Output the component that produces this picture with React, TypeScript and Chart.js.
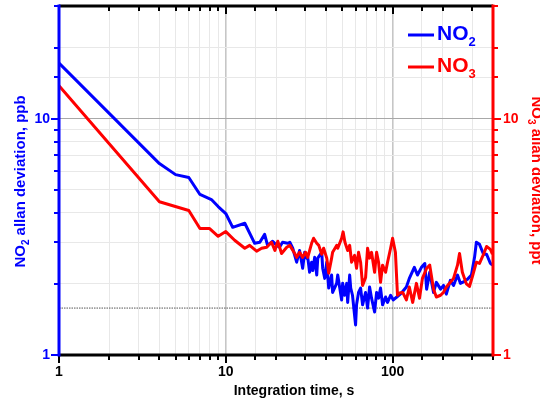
import React, { useEffect, useRef } from 'react';
import { Chart, registerables } from 'chart.js';

Chart.register(...registerables);

const FONT = '"Liberation Sans", Arial, Helvetica, sans-serif';

// Integration time (s) and Allan deviation
const NO2_TAU = [1, 4, 5, 6, 7, 8.2, 9, 10, 11, 13,
  14.9, 16, 17.1, 17.8, 19.1, 20.2, 21, 21.9, 23.5, 24.2,
  25.2, 26.6, 27.7, 28.9, 29.7, 30.5, 31, 31.8, 32.7, 33.2,
  34.1, 35.1, 35.6, 37.6, 38.1, 39.2, 40.3, 41.4, 43.1, 43.7,
  46.2, 46.9, 49.5, 50.2, 51.6, 53.1, 53.8, 55.3, 56.1, 57.5,
  60, 60.8, 62.5, 64.3, 66.1, 68.9, 70.8, 72.8, 74.8, 78,
  80.2, 82.4, 84.7, 87.1, 90.8, 93.3, 97.3, 101, 106, 113,
  121, 126, 135, 141, 149, 156, 160, 167, 176, 183,
  194, 202, 210, 222, 232, 245, 255, 270, 281, 297,
  310, 318, 332, 351, 366, 386, 397];
const NO2_DEV = [17.2, 6.46, 5.8, 5.64, 4.78, 4.55, 4.25, 3.97, 3.47, 3.61,
  2.97, 3.0, 3.24, 2.91, 3.03, 2.91, 2.86, 3.0, 2.97, 3.0,
  2.83, 2.47, 2.77, 2.33, 2.72, 2.57, 2.59, 2.24, 2.47, 2.28,
  2.59, 2.18, 2.57, 2.72, 2.33, 2.11, 2.47, 1.92, 2.18, 1.84,
  2.01, 2.18, 1.71, 2.01, 1.79, 2.01, 1.67, 2.18, 1.92, 1.79,
  1.34, 1.63, 1.84, 1.92, 1.63, 1.84, 1.58, 1.94, 1.74, 1.52,
  1.84, 1.74, 1.92, 1.63, 1.76, 1.67, 1.79, 1.71, 1.76, 1.83,
  1.94, 2.11, 2.35, 2.18, 2.35, 2.44, 1.9, 2.24, 1.84, 2.03,
  1.9, 1.97, 1.81, 2.07, 1.97, 2.18, 2.01, 2.05, 2.09, 2.18,
  2.59, 3.0, 2.94, 2.67, 2.67, 2.44, 2.4];

const NO3_TAU = [1, 4, 6, 7, 8, 9, 10, 11.3, 13, 13.9,
  15.3, 16.4, 17.6, 18.8, 19.7, 20.5, 21.6, 23.2, 24.2, 25.9,
  26.6, 27.7, 28.9, 30.1, 31, 32.7, 33.6, 35.1, 36.1, 37.6,
  38.6, 40.3, 41.4, 43.1, 43.7, 46.2, 46.9, 49.5, 50.5, 51.8,
  53.8, 55.3, 56.8, 59.2, 60.8, 62.5, 64.3, 66.1, 68.9, 70.8,
  72.8, 74.8, 78, 80.2, 82.4, 84.7, 87.1, 90.8, 93.3, 97.3,
  100, 104, 107, 110, 115, 121, 126, 132, 139, 145,
  151, 160, 167, 176, 183, 194, 202, 210, 222, 232,
  245, 252, 262, 277, 289, 301, 318, 332, 351, 366,
  386, 397];
const NO3_DEV = [13.8, 4.45, 4.09, 3.43, 3.43, 3.18, 3.33, 3.06, 2.83, 2.91,
  2.75, 2.83, 2.86, 3.0, 2.77, 3.03, 2.69, 2.86, 2.91, 2.69,
  2.59, 2.72, 2.59, 2.72, 2.59, 2.97, 3.12, 2.97, 2.91, 2.67,
  2.83, 2.57, 2.22, 2.57, 2.72, 2.91, 2.83, 3.12, 3.32, 3.0,
  2.77, 2.91, 2.47, 2.64, 2.33, 2.72, 2.47, 1.97, 2.13, 2.83,
  2.57, 2.72, 2.24, 2.72, 2.47, 2.03, 2.4, 2.24, 2.47, 2.83,
  3.12, 2.72, 1.79, 1.83, 1.84, 1.71, 1.94, 1.67, 2.01, 1.74,
  2.11, 2.33, 2.4, 1.9, 1.76, 1.79, 1.84, 1.94, 2.03, 2.11,
  2.4, 2.69, 2.24, 2.0, 1.95, 2.15, 2.47, 2.44, 2.67, 2.88,
  2.8, 2.67];

// dotted reference level
const LIMIT_TAU = [1, 400];
const LIMIT_DEV = [1.58, 1.58];

const X_RANGE = [1, 400];
const Y_RANGE = [1, 30];

const X_TITLE = 'Integration time, s';
type Seg = [string, boolean];
const Y_TITLE: Seg[] = [['NO', false], ['2', true], [' allan deviation, ppb', false]];
const Y2_TITLE: Seg[] = [['NO', false], ['3', true], [' allan deviation, ppt', false]];
const LEGEND: { segs: Seg[]; color: string }[] = [
  { segs: [['NO', false], ['2', true]], color: '#0000ff' },
  { segs: [['NO', false], ['3', true]], color: '#ff0000' },
];

const BLUE = '#0000ff';
const RED = '#ff0000';

const isMajor = (v: number) => {
  const l = Math.log10(v);
  return Math.abs(l - Math.round(l)) < 1e-9;
};

function drawRich(ctx: CanvasRenderingContext2D, segs: Seg[], x: number, y: number,
  size: number, subSize: number, drop: number, center: boolean) {
  const main = `bold ${size}px ${FONT}`;
  const sub = `bold ${subSize}px ${FONT}`;
  let total = 0;
  for (const [t, s] of segs) { ctx.font = s ? sub : main; total += ctx.measureText(t).width; }
  let cx = center ? x - total / 2 : x;
  ctx.textAlign = 'left';
  ctx.textBaseline = 'alphabetic';
  for (const [t, s] of segs) {
    ctx.font = s ? sub : main;
    ctx.fillText(t, cx, s ? y + drop : y);
    cx += ctx.measureText(t).width;
  }
}

const framePlugin = {
  id: 'frame',
  afterDraw(chart: any) {
    const { ctx, chartArea: a, scales } = chart;
    const xs = scales.x, ys = scales.y, y2s = scales.y2;
    ctx.save();
    // ticks
    ctx.lineWidth = 2;
    ctx.strokeStyle = '#000';
    for (const t of xs.ticks) {
      const px = Math.round(xs.getPixelForValue(t.value));
      const len = isMajor(t.value) ? 8 : 5;
      ctx.beginPath();
      ctx.moveTo(px, a.bottom); ctx.lineTo(px, a.bottom + len);
      ctx.moveTo(px, a.top); ctx.lineTo(px, a.top + len);
      ctx.stroke();
    }
    ctx.strokeStyle = BLUE;
    for (const t of ys.ticks) {
      const py = Math.round(ys.getPixelForValue(t.value));
      const len = isMajor(t.value) ? 8 : 5;
      ctx.beginPath(); ctx.moveTo(a.left, py); ctx.lineTo(a.left - len, py); ctx.stroke();
    }
    ctx.strokeStyle = RED;
    for (const t of y2s.ticks) {
      const py = Math.round(y2s.getPixelForValue(t.value));
      const len = isMajor(t.value) ? 8 : 5;
      ctx.beginPath(); ctx.moveTo(a.right, py); ctx.lineTo(a.right + len, py); ctx.stroke();
    }
    // frame
    ctx.lineWidth = 3;
    ctx.strokeStyle = '#000';
    ctx.beginPath();
    ctx.moveTo(a.left, a.top); ctx.lineTo(a.right, a.top);
    ctx.moveTo(a.left, a.bottom); ctx.lineTo(a.right, a.bottom);
    ctx.stroke();
    ctx.strokeStyle = BLUE;
    ctx.beginPath(); ctx.moveTo(a.left, a.top - 1.5); ctx.lineTo(a.left, a.bottom + 1.5); ctx.stroke();
    ctx.strokeStyle = RED;
    ctx.beginPath(); ctx.moveTo(a.right, a.top - 1.5); ctx.lineTo(a.right, a.bottom + 1.5); ctx.stroke();

    // x title
    ctx.fillStyle = '#000';
    ctx.font = `bold 14px ${FONT}`;
    ctx.textAlign = 'center';
    ctx.textBaseline = 'alphabetic';
    ctx.fillText(X_TITLE, 294, 395);

    // left title
    ctx.save();
    ctx.fillStyle = BLUE;
    ctx.translate(25, (a.top + a.bottom) / 2 + 1);
    ctx.rotate(-Math.PI / 2);
    drawRich(ctx, Y_TITLE, 0, 0, 15, 10, 4, true);
    ctx.restore();

    // right title
    ctx.save();
    ctx.fillStyle = RED;
    ctx.translate(532, (a.top + a.bottom) / 2);
    ctx.rotate(Math.PI / 2);
    drawRich(ctx, Y2_TITLE, 0, 0, 15, 10, 4, true);
    ctx.restore();

    // legend
    LEGEND.forEach((item, i) => {
      const ly = 35 + i * 32;
      ctx.strokeStyle = item.color;
      ctx.lineWidth = 3;
      ctx.beginPath(); ctx.moveTo(408, ly); ctx.lineTo(434, ly); ctx.stroke();
      ctx.fillStyle = item.color;
      drawRich(ctx, item.segs, 437, ly + 5, 21, 13, 6, false);
    });
    ctx.restore();
  },
};

export default function App() {
  const ref = useRef<HTMLCanvasElement>(null);
  useEffect(() => {
    const canvas = ref.current;
    if (!canvas) return;
    const toPts = (xs: number[], ys: number[]) => xs.map((x, i) => ({ x, y: ys[i] }));
    const tickFont = { family: FONT, size: 14, weight: 'bold' as const };
    const chart = new Chart(canvas, {
      type: 'line',
      data: {
        datasets: [
          {
            label: 'NO3', data: toPts(NO3_TAU, NO3_DEV), yAxisID: 'y2', borderColor: RED,
            borderWidth: 3, pointRadius: 0, tension: 0, borderJoinStyle: 'round', order: 1,
          },
          {
            label: 'NO2', data: toPts(NO2_TAU, NO2_DEV), yAxisID: 'y', borderColor: BLUE,
            borderWidth: 3, pointRadius: 0, tension: 0, borderJoinStyle: 'round', order: 2,
          },
          {
            label: 'limit', data: toPts(LIMIT_TAU, LIMIT_DEV), yAxisID: 'y', borderColor: '#555',
            borderWidth: 1, borderDash: [1.5, 1], pointRadius: 0, order: 3,
          },
        ],
      },
      options: {
        responsive: false,
        devicePixelRatio: 1,
        animation: false,
        layout: { padding: { top: 6, left: 0, right: 0, bottom: 0 } },
        plugins: { legend: { display: false }, tooltip: { enabled: false } },
        scales: {
          x: {
            type: 'logarithmic', min: X_RANGE[0], max: X_RANGE[1], position: 'bottom',
            grid: {
              drawTicks: false,
              color: (c: any) => (c.tick && isMajor(c.tick.value) ? '#c6c6c6' : '#e8e8e8'),
              lineWidth: (c: any) => (c.tick && isMajor(c.tick.value) ? 1.6 : 1),
            },
            border: { display: false },
            ticks: {
              autoSkip: false, maxRotation: 0, padding: 9, color: '#000', font: tickFont,
              callback: (v: any) => (isMajor(Number(v)) ? String(Number(v)) : ''),
            },
            afterFit: (s: any) => { s.height = 51; s.paddingLeft = 0; s.paddingRight = 0; },
          },
          y: {
            type: 'logarithmic', min: Y_RANGE[0], max: Y_RANGE[1], position: 'left',
            grid: {
              drawTicks: false,
              color: (c: any) => (c.tick && isMajor(c.tick.value) ? '#a8a8a8' : '#e8e8e8'),
            },
            border: { display: false },
            ticks: {
              autoSkip: false, padding: 9, color: BLUE, font: tickFont,
              callback: (v: any) => (isMajor(Number(v)) ? String(Number(v)) : ''),
            },
            afterFit: (s: any) => { s.width = 59; s.paddingTop = 0; s.paddingBottom = 0; },
          },
          y2: {
            type: 'logarithmic', min: Y_RANGE[0], max: Y_RANGE[1], position: 'right',
            grid: { display: false, drawTicks: false },
            border: { display: false },
            ticks: {
              autoSkip: false, padding: 10, color: RED, font: tickFont,
              callback: (v: any) => (isMajor(Number(v)) ? String(Number(v)) : ''),
            },
            afterFit: (s: any) => { s.width = 47; s.paddingTop = 0; s.paddingBottom = 0; },
          },
        },
      },
      plugins: [framePlugin],
    } as any);
    return () => chart.destroy();
  }, []);
  return (
    <div style={{ position: 'absolute', left: 0, top: 0, width: 540, height: 406, background: '#fff' }}>
      <canvas ref={ref} width={540} height={406} style={{ display: 'block', width: 540, height: 406 }} />
    </div>
  );
}
